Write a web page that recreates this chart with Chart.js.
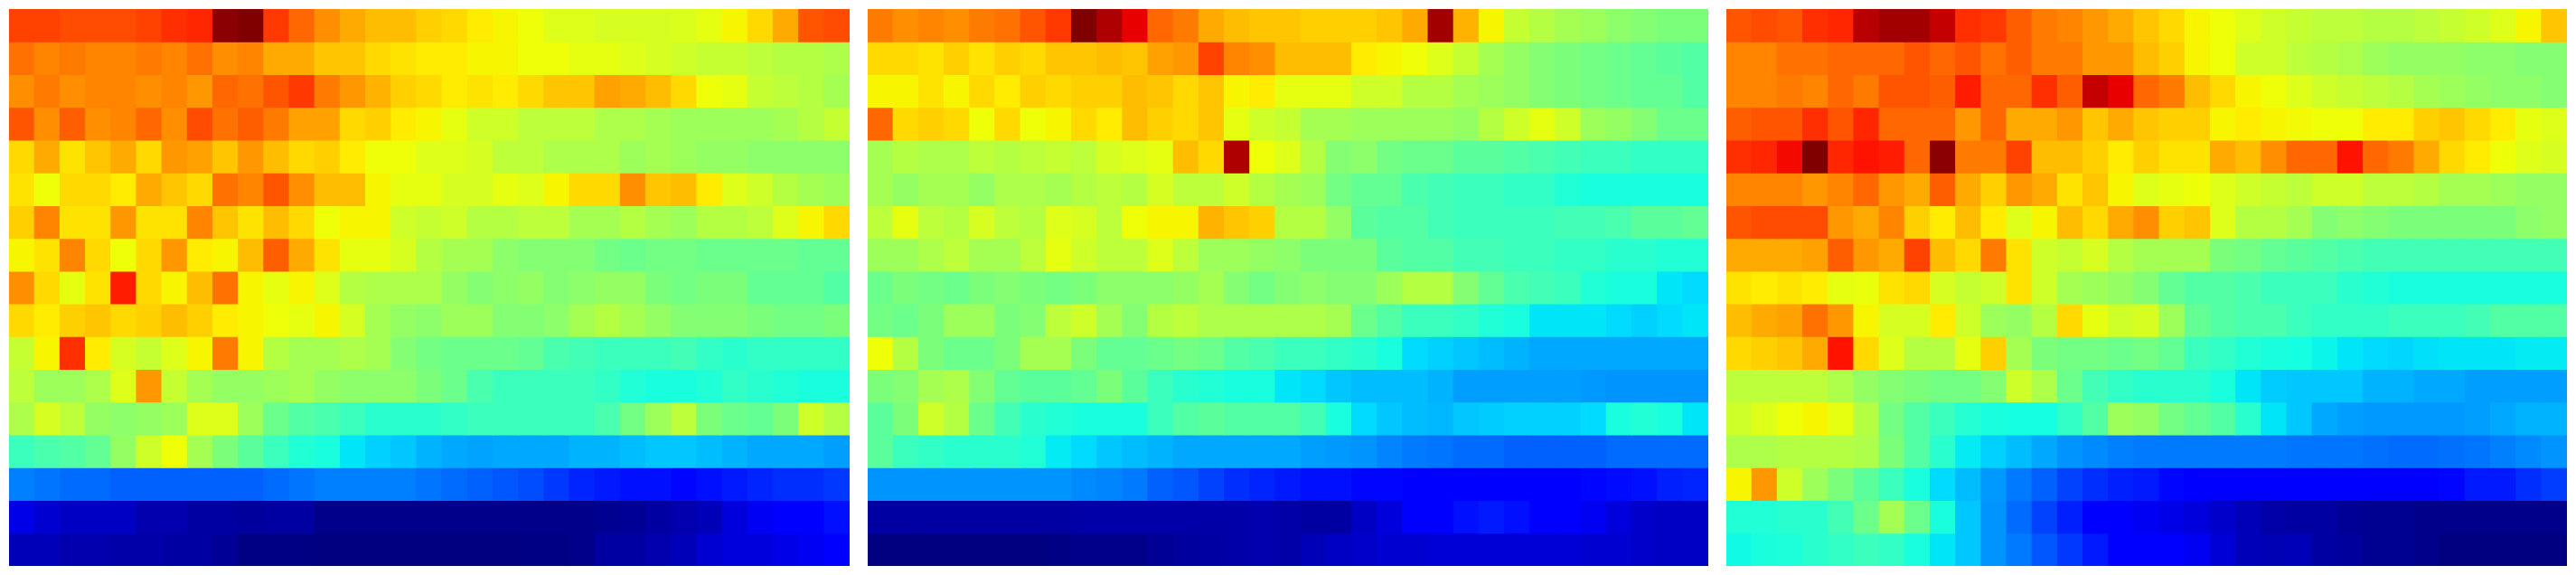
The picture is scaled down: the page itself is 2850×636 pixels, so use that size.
<!DOCTYPE html>
<html>
<head>
<meta charset="utf-8">
<title>Heatmaps</title>
<script src="https://cdn.jsdelivr.net/npm/chart.js@4/dist/chart.umd.js"></script>
<style>
html, body { margin: 0; padding: 0; background: #fff; }
body { width: 2850px; height: 636px; position: relative; overflow: hidden; }
canvas { position: absolute; top: 10px; }
</style>
</head>
<body>
<canvas id="panelA" width="930" height="616" style="left:10px"></canvas>
<canvas id="panelB" width="930" height="616" style="left:960px"></canvas>
<canvas id="panelC" width="930" height="616" style="left:1910px"></canvas>
<script>
// values, 0-100 on the jet colour range, one list per row from the top
const valuesA = [
  [84,84,83,83,83,84,86,87,99,100,85,80,76,73,71,71,69,68,66,65,64,62,62,61,61,61,61.5,63,65,68,73,82,83],
  [79,77,78,77,77,78,77,79,76,77,73,73,70,70,68,67,66,66,65,65,64,64,63,63,62,61,60,59,59,58,57,57,56],
  [76,78,76,77,77,76,77,75,80,79,82,85,78,75,72,69,68,66,67,66,68,70,70,74,73,71,68,64,63,59,58,57,55],
  [82,76,81,76,77,80,76,83,79,81,78,74,74,68,69,66,65,63,60,60,58,58,58,56,56,55,54,54,54,54,55,57,59],
  [68,73,67,70,73,68,75,74,70,75,71,68,69,66,64,64,62,62,61,58,58,56,56,56,54,55,54,53,53,52,52,52,52],
  [67,64,68,68,66,73,70,68,79,77,82,76,71,71,65,63,63,61,61,63,62,65,68,68,76,70,71,66,62,60,57,55,54],
  [69,77,67,67,75,67,67,77,70,67,71,68,64,65,65,60,59,60,57,57,58,58,55,55,57,55,54,57,57,58,62,65,68],
  [65,67,77,68,64,68,75,66,65,71,81,73,67,63,63,61,57,55,55,52,51,51,51,49,48,49,49,48,48,48,48,47,47],
  [76,68,63,67,88,68,65,71,79,65,63,65,62,57,56,56,56,53,51,52,53,51,52,53,53,50,49,50,50,47,47,47,45],
  [68,66,69,70,68,69,71,69,66,65,64,63,65,61,55,53,52,54,54,51,51,52,55,57,55,53,51,51,51,50,49,49,50],
  [59,65,86,66,61,59,62,65,78,65,57,55,55,56,55,51,49,48,48,48,47,44,43,42,42,42,43,41,40,41,41,41,41],
  [58,54,54,56,62,75,59,55,53,53,54,55,53,52,52,52,50,48,44,42,42,42,42,41,39,38,38,39,41,40,39,38,38],
  [56,61,58,53,52,53,54,62,62,54,48,45,44,42,40,40,40,41,42,42,42,42,42,44,49,54,58,50,48,47,50,60,57],
  [42,44,45,47,53,60,64,55,50,46,42,39,38,35,33,32,30,29,28.5,29,29,29,30,30,31,32,32,31,30,29,29,29,28],
  [25,24,23,23,22,22,22,22,22,22,23,24,25,25,25,25,24,23,22,21,20,18,16,15,14,14,13,14,15,16,17,17,18],
  [9,7,6,6,6,4,4,3,3,2.5,3,3,1,1,1,1,1,1,1,1,1,1,1,1.5,2,3,4,5,8,10,12,12.5,14],
  [5,5,4,4,3.5,3.5,3,3,2,0.5,0.5,0.5,0,0,0,0,0,0,0,0,0.5,0.5,1,3,3,4,5,7,8,8,9,10,12]
];

const valuesB = [
  [78,76,77,76,78,79,82,85,100,96,91,80,78,73,71,70,70,69,69,69,70,73,97,72,65,59,57,55,54,52,51,50,50],
  [68,68,67,69,67,69,68,70,70,71,70,74,75,84,77,76,71,71,71,66,65,64,62,59,55,53,51,50,49,48,47,46,45],
  [65,65,67,65,68,66,69,68,69,69,71,70,68,70,65,66,63,63,63,60,60,57,57,55,54,53,51,50,49,48,47,47,45],
  [80,68,69,68,64,68,64,65,68,66,71,69,68,70,63,60,59,55,55,54,54,54,54,53,57,60,63,60,54,53,51,48,48],
  [55,57,56,56,58,57,58,59,58,61,62,63,71,68,96,64,62,57,51,52,49,48,48,46,46,45,44,43,42,42,41,41,41],
  [55,53,55,55,53,56,56,55,57,58,57,61,58,58,60,57,55,54,49,47,47,44,43,42,42,41,41,39,38,38,38,38,38],
  [58,63,58,57,61,58,57,62,61,58,64,65,65,72,70,69,57,57,53,46,45,45,43,42,42,42,42,43,43,44,46,46,47],
  [54,54,56,58,55,55,58,63,60,58,58,62,58,54,54,53,52,50,50,50,46,45,45,43,43,42,42,41,41,40,40,39,39],
  [48,50,49,48,50,51,50,49,50,52,52,52,53,55,51,49,51,52,51,51,54,57,57,51,47,44,43,42,39,38,38,35,34],
  [49,48,50,54,54,50,51,58,60,55,51,57,58,56,56,56,56,56,55,48,45,42,42,41,39,38,35,35,35,34,33,34,35],
  [64,57,50,48,48,50,55,55,50,47,47,48,49,48,45,44,42,42,41,40,38,34,33,32,31,30,29,29,29,29,29,29,29],
  [50,51,55,56,51,47,46,46,47,50,46,42,40,39,38,38,35,34,32,31,31,31,30,28,28,28,28,28,27.5,27,27,27,27],
  [46,50,60,57,48,43,40,39,38,38,38,42,45,46,45,45,45,43,38,34,32,31,30.5,32,32.5,33,33,33,34,38,39,38,35],
  [46,42,41,40,40,40,39,35.5,34,32,31,30,29,29,29,29,29,28,27.5,27,25.5,24.5,24,23,23,22,22,22,22,23,23,23,23],
  [27,27,27,27,27,27,27,27,26,25.5,24.5,22,21,19,17,16,15,14,14,13,13,12,12,12,12,12,12,12,13,13.5,14,15.5,16],
  [3,3,3,3,3,3,3,3,3.5,3.5,3.5,3.5,3.5,3.5,3.5,4,3.5,3,3,6,8,11,12,14,15,14,12,12,10,8,6.5,6,6],
  [0,0,0,0,0,0,0,0.5,1,1,1,2,2.5,3,3.5,4,3.5,5,6,6.5,7,7,7.5,7.5,7.5,7.5,7.5,7.5,7,7,6.5,6,6]
];

const valuesC = [
  [82,83,82,86,87,95,97,97,94,86,85,81,78,77,75,73,70,68,65,64,62,60,59,58,58,57,57,58,59,60,62,65,70],
  [77,77,79,79,80,80,80,82,80,82,79,81,78,78,75,75,71,69,65,64,60,60,58,57,56,54,53,53,53,52,52,51,51],
  [77,77,78,77,80,78,82,82,81,88,80,80,86,81,94,91,80,78,71,68,65,64,62,60,59,58,57,55,54,53,52,52,51],
  [81,82,82,86,82,87,80,80,80,75,80,73,73,75,70,73,70,69,69,65,66,65,64.5,64,64,66,66,69,70,68,66,63,62],
  [86,87,90,100,87,89,88,80,99,78,78,84,71,71,69,66,69,67,67,73,71,76,80,80,89,80,78,73,68,66,64,62,61],
  [77,77,77,75,77,80,75,73,81,73,69,75,73,67,70,65,62,63,64,62,60,59,58,60,60,58,58,57,55,55,54,53,53],
  [82,83,83,83,75,73,77,69,66,71,66,62,65,71,68,73,76,69,70,62,57,57,55,51,52,51,50,50,50,50,50,52,53],
  [73,73,73,74,81,75,73,84,71,68,78,67,60,59,61,57,55,55,55,50,49,47,46,45,44,43,43,43,43,43,43,43,43],
  [67,66,67,66,63,63.5,67,68,61,59,60,67,60,55,54,53,51,47,45,45,44,42,42,42,40,39,38,38,38,38,38,38,38],
  [71,73,74,79,75,65,61,61,66,60,54,53,57,68,63,60,61,54,47,45,44,44,42,41,41,41,42,42,42,43,45,45,45],
  [68,69,70,73,89,68,62,57,57,63,69,55,50,49,49,48,49,47,42,41,39,38,37.5,36.5,35,34,33.5,34.5,35,35,35,35.5,35.5],
  [58,58,58,58,56,53,51,50,49,49,51,60,56,48,43,41,40,40,40,38,35,32.5,32,32,32,30,30,29,29,28,28,28,28],
  [60,62,64,65,63,57,49,45,42,39.5,38,37.5,37.5,41,45,54,53,49,47,45,40,35,32,29,28,27.5,27.5,27.5,27.5,28,29,30,30],
  [56,56,57,57,57,56,50,45,40,35.5,33,31,29,27,26,25,24.5,24.5,24.5,24.5,24.5,24.5,24,24,24,23.5,23,23,23.5,24,25,26,27],
  [65,75,60,54,50,46,42,38,34,31,27.5,24.5,22,19,17,15.5,15,13,12,12,12,12,12,12,12,12,12,12.5,13,15,15,17,18.5],
  [39,39,40,40,43,48,55,48,38,32,27,23,19,15.5,12.5,11,10,9,8,6.5,5,3.5,3,3,2,1.5,1.5,1,1,1,1,1,1],
  [37,38,38.5,40,41,42,41,38,35,32,27,24.5,21,18,15,12.5,11,11.5,10,7.5,5,4.5,5,3,2.5,1.5,1.5,1,0,0,0,0,0]
];

const columnLabels = valuesA[0].map((v, i) => String(i));

// matplotlib jet
function jet(v) {
    const t = Math.min(1, Math.max(0, v / 100));
    const lerp = (pts) => {
        for (let i = 1; i < pts.length; i++) {
            if (t <= pts[i][0]) {
                const a = pts[i - 1], b = pts[i];
                return a[1] + (b[1] - a[1]) * (t - a[0]) / (b[0] - a[0]);
            }
        }
        return pts[pts.length - 1][1];
    };
    const r = lerp([[0, 0], [0.35, 0], [0.66, 1], [0.89, 1], [1, 0.5]]);
    const g = lerp([[0, 0], [0.125, 0], [0.375, 1], [0.64, 1], [0.91, 0], [1, 0]]);
    const b = lerp([[0, 0.5], [0.11, 1], [0.34, 1], [0.65, 0], [1, 0]]);
    return `rgb(${Math.round(r * 255)},${Math.round(g * 255)},${Math.round(b * 255)})`;
}

function drawHeatmap(canvasId, values) {
    const datasets = values.map((row, r) => ({
        data: row.map(() => [r, r + 1]),
        backgroundColor: row.map(jet),
        borderWidth: 0,
        inflateAmount: 0.5,
        grouped: false,
        categoryPercentage: 1,
        barPercentage: 1
    }));

    new Chart(document.getElementById(canvasId), {
        type: 'bar',
        data: { labels: columnLabels, datasets: datasets },
        options: {
            responsive: false,
            animation: false,
            events: [],
            layout: { padding: 0 },
            plugins: { legend: { display: false }, tooltip: { enabled: false } },
            scales: {
                x: { display: false, offset: true, grid: { display: false } },
                y: { display: false, min: 0, max: values.length, reverse: true, grid: { display: false } }
            }
        }
    });
}

drawHeatmap('panelA', valuesA);
drawHeatmap('panelB', valuesB);
drawHeatmap('panelC', valuesC);
</script>
</body>
</html>
